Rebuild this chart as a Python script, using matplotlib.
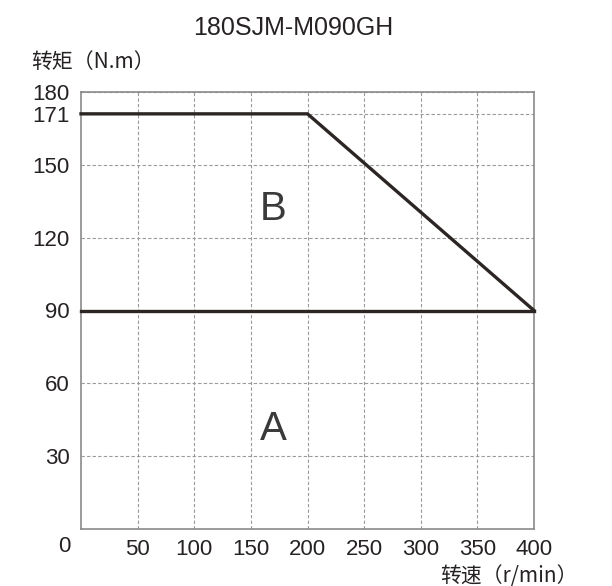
import matplotlib
matplotlib.use("Agg")
import matplotlib.pyplot as plt

title = "180SJM-M090GH"
ylabel = "转矩（N.m）"
xlabel = "转速（r/min）"

speed_upper = [0, 200, 400]
torque_upper = [171, 171, 90]
speed_lower = [0, 400]
torque_lower = [90, 90]

xticks = [50, 100, 150, 200, 250, 300, 350, 400]
yticks = [30, 60, 90, 120, 150, 171, 180]
region_labels = ["B", "A"]
region_x = [170, 170]
region_y = [132, 41]

fig = plt.figure(figsize=(6.12, 5.86), dpi=100)
ax = fig.add_axes([81/612, 1-529/586, (534-81)/612, (529-92)/586])

num_font = "Liberation Sans"
cjk = ["Noto Sans CJK SC", "DejaVu Sans"]
tc = "#262223"

ax.set_xlim(0, 400)
ax.set_ylim(0, 180)
ax.set_xticks(xticks)
ax.set_yticks(yticks)
ax.tick_params(length=0, labelsize=16, colors=tc)
ax.tick_params(axis="x", pad=7)
ax.tick_params(axis="y", pad=8)
for lab in ax.get_xticklabels() + ax.get_yticklabels():
    lab.set_family(num_font)

ax.grid(True, linestyle=(0, (3, 2)), color="#9a9a9a", linewidth=0.8)
ax.set_axisbelow(True)
for s in ax.spines.values():
    s.set_color("#8a8a8a")
    s.set_linewidth(1.2)

ax.plot(speed_upper, torque_upper, color="#2b2523", linewidth=2.4,
        solid_joinstyle="miter", clip_on=False, zorder=3)
ax.plot(speed_lower, torque_lower, color="#2b2523", linewidth=2.4,
        clip_on=False, zorder=3)

for t, x, y in zip(region_labels, region_x, region_y):
    ax.text(x, y, t, fontsize=29, family=num_font, color="#3a3a3a",
            ha="center", va="center")

fig.text(64/612, 1-547/586, "0", fontsize=16, family=num_font, color=tc,
         ha="center", va="center")
fig.text(293/612, 1-28/586, title, fontsize=18, family=num_font, color=tc,
         ha="center", va="center")
fig.text(31/612, 1-62/586, ylabel, fontsize=15, family=cjk, color=tc,
         ha="left", va="center")
fig.text(578/612, 1-576/586, xlabel, fontsize=15, family=cjk, color=tc,
         ha="right", va="center")

fig.savefig("out.png", dpi=100)
